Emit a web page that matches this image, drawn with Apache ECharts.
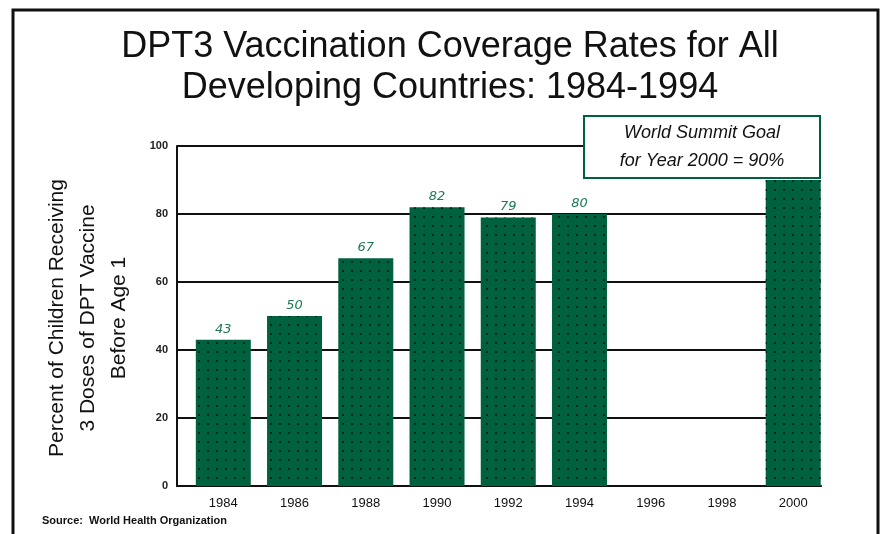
<!DOCTYPE html>
<html>
<head>
<meta charset="utf-8">
<script src="https://cdn.jsdelivr.net/npm/echarts@6/dist/echarts.min.js"></script>
<style>
html,body{margin:0;padding:0;background:#fff;}
#c{width:881px;height:534px;}
</style>
</head>
<body>
<div id="c"></div>
<script>
// ---- data ----
var years = [1984, 1986, 1988, 1990, 1992, 1994, 1996, 1998, 2000];
var coverage = [43, 50, 67, 82, 79, 80, null, null, 90];
var showValueLabel = [true, true, true, true, true, true, false, false, false];
var yTicks = [0, 20, 40, 60, 80, 100];
var titleText = 'DPT3 Vaccination Coverage Rates for All\nDeveloping Countries: 1984-1994';
var yAxisTitle = 'Percent of Children Receiving\n3 Doses of DPT Vaccine\nBefore Age 1';
var goalText = 'World Summit Goal\nfor Year 2000 = 90%';
var sourceText = 'Source:  World Health Organization';

var GREEN = '#00613f';

var seriesData = years.map(function (y, i) {
  return {
    value: [y, coverage[i]],
    label: { show: showValueLabel[i] }
  };
});

var chart = echarts.init(document.getElementById('c'), null, { renderer: 'canvas' });
chart.setOption({
  animation: false,
  backgroundColor: '#ffffff',
  aria: { enabled: true, decal: { show: true } },
  title: {
    text: titleText,
    left: 445,
    top: 22,
    textAlign: 'center',
    textStyle: {
      fontFamily: 'Liberation Sans, sans-serif',
      fontSize: 36,
      fontWeight: 'normal',
      color: '#111',
      lineHeight: 41
    }
  },
  grid: { left: 177, right: 60, top: 146, bottom: 48, containLabel: false },
  xAxis: {
    type: 'value',
    min: 1982.7,
    max: 2000.78,
    axisLine: { show: true, onZero: false, lineStyle: { color: '#111', width: 2 } },
    axisTick: { show: false },
    splitLine: { show: false },
    axisLabel: {
      customValues: years,
      margin: 11,
      fontFamily: 'Liberation Sans, sans-serif',
      fontSize: 13,
      color: '#111',
      formatter: function (v) { return String(v); }
    }
  },
  yAxis: {
    type: 'value',
    min: 0,
    max: 100,
    interval: 20,
    axisLine: { show: true, lineStyle: { color: '#111', width: 2 } },
    axisTick: { show: false },
    splitLine: { show: true, lineStyle: { color: '#111', width: 2 } },
    axisLabel: {
      margin: 9,
      fontFamily: 'Liberation Sans, sans-serif',
      fontSize: 11,
      fontWeight: 'bold',
      color: '#222'
    }
  },
  series: [{
    type: 'bar',
    data: seriesData,
    barWidth: 55,
    itemStyle: {
      color: GREEN,
      decal: {
        symbol: 'rect',
        symbolSize: 1,
        color: 'rgba(0,25,15,0.8)',
        dashArrayX: [[2, 7]],
        dashArrayY: [2, 7],
        rotation: 0
      }
    },
    label: {
      show: true,
      position: 'top',
      distance: 4,
      fontFamily: 'DejaVu Sans, sans-serif',
      fontStyle: 'italic',
      fontSize: 13,
      color: '#1d7a55',
      formatter: function (p) { return p.value[1]; }
    }
  }],
  graphic: [
    {
      type: 'rect',
      shape: { x: 13, y: 10, width: 865, height: 540 },
      style: { fill: 'none', stroke: '#111', lineWidth: 3 },
      z: 100
    },
    {
      type: 'text',
      x: 88,
      y: 318,
      rotation: Math.PI / 2,
      style: {
        text: yAxisTitle,
        fontFamily: 'Liberation Sans, sans-serif',
        fontSize: 21,
        lineHeight: 31,
        fill: '#111',
        align: 'center',
        verticalAlign: 'middle'
      }
    },
    {
      type: 'rect',
      z: 100,
      shape: { x: 584, y: 116, width: 236, height: 62 },
      style: { fill: '#fff', stroke: GREEN, lineWidth: 2 }
    },
    {
      type: 'text',
      z: 101,
      x: 702,
      y: 147,
      style: {
        text: goalText,
        fontFamily: 'Liberation Sans, sans-serif',
        fontStyle: 'italic',
        fontSize: 18,
        lineHeight: 28,
        fill: '#111',
        align: 'center',
        verticalAlign: 'middle'
      }
    },
    {
      type: 'text',
      left: 42,
      top: 515,
      style: {
        text: sourceText,
        fontFamily: 'Liberation Sans, sans-serif',
        fontSize: 11,
        fontWeight: 'bold',
        fill: '#111'
      }
    }
  ]
});
</script>
</body>
</html>
